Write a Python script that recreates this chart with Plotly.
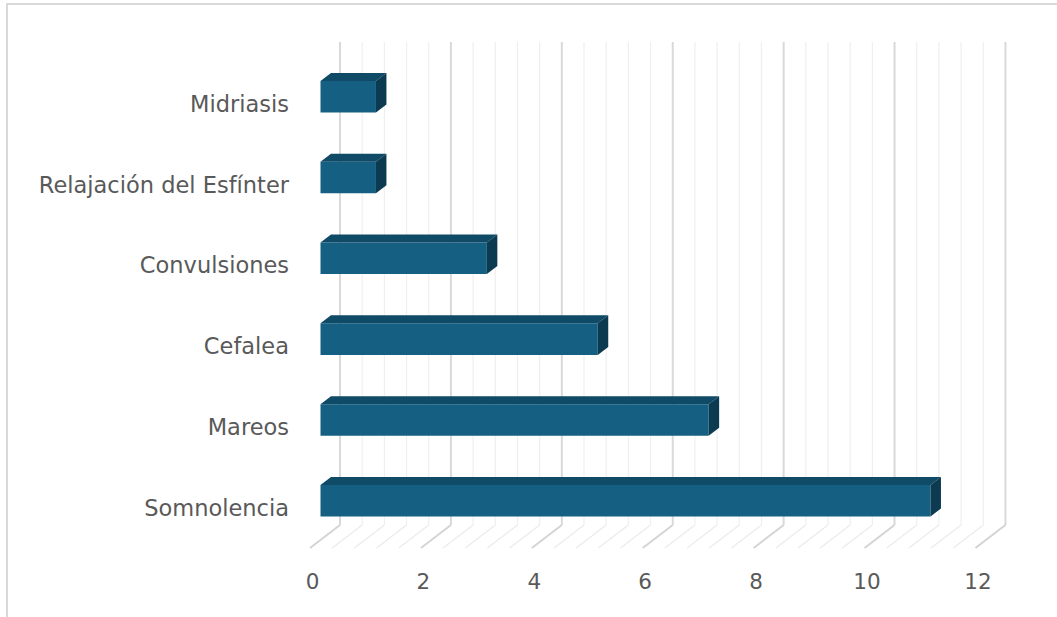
import plotly.graph_objects as go

# ---------------- data ----------------
categories = ["Somnolencia", "Mareos", "Cefalea", "Convulsiones",
              "Relajación del Esfínter", "Midriasis"]
values = [11, 7, 5, 3, 1, 1]
x_ticks = [0, 2, 4, 6, 8, 10, 12]
x_max = 12
minor_step = 0.4

# ---------------- style / geometry ----------------
FRONT = "#156082"
TOP = "#0f4a66"
SIDE = "#0c3b51"
TEXT = "#595959"
FONT = "DejaVu Sans"

W, H = 1057, 617
ML, MR, MT, MB = 300, 20, 20, 57
x_range = [-0.3697, 12.921]
y_range = [-0.6436, 6.0396]

bar_off, bar_w = -0.105, 0.39          # front face span around category position
dx, dy = 0.189, 0.099                  # depth offset of the bar (data units)
wall_dx = 0.352                        # back wall offset
floor_front_dx = -0.189                # front edge of floor
floor_back_y, floor_front_y = -0.2104, -0.495
wall_top_y = 5.767

idx = list(range(len(categories)))

fig = go.Figure()

# ---- grid (back wall + floor) as shapes beneath the traces ----
n_minor = int(round(x_max / minor_step))
all_lines = [round(k * minor_step, 6) for k in range(n_minor + 1)]
major_lines = [v for v in all_lines if abs(v / 2 - round(v / 2)) < 1e-6]
minor_lines = [v for v in all_lines if v not in major_lines]

shapes = []
def add_grid(vals, color_wall, color_floor, width):
    for v in vals:
        shapes.append(dict(type="line", xref="x", yref="y", layer="below",
                           x0=v + wall_dx, x1=v + wall_dx,
                           y0=floor_back_y, y1=wall_top_y,
                           line=dict(color=color_wall, width=width)))
        shapes.append(dict(type="line", xref="x", yref="y", layer="below",
                           x0=v + wall_dx, x1=v + floor_front_dx,
                           y0=floor_back_y, y1=floor_front_y,
                           line=dict(color=color_floor, width=width)))

add_grid(minor_lines, "#efefef", "#ebebeb", 1.2)
add_grid(major_lines, "#d9d9d9", "#d4d4d4", 2)

# outer border
shapes.append(dict(type="rect", xref="paper", yref="paper",
                   x0=(7 - ML) / (W - ML - MR), x1=1.2,
                   y0=-0.3, y1=(H - MB - 4) / (H - MT - MB),
                   line=dict(color="#d9d9d9", width=2), fillcolor="rgba(0,0,0,0)",
                   layer="below"))

# ---- front faces ----
fig.add_trace(go.Bar(y=idx, x=values, orientation="h", width=bar_w, offset=bar_off,
                     marker=dict(color=FRONT, line=dict(width=0)),
                     showlegend=False, hoverinfo="x"))

# ---- top faces ----
tx, ty = [], []
for i, v in zip(idx, values):
    yt = i + bar_off + bar_w
    tx += [0, v, v + dx, dx, 0, None]
    ty += [yt, yt, yt + dy, yt + dy, yt, None]
fig.add_trace(go.Scatter(x=tx, y=ty, mode="lines", fill="toself", fillcolor=TOP,
                         line=dict(width=0, color=TOP), hoverinfo="skip", showlegend=False))

# ---- side faces ----
sx, sy = [], []
for i, v in zip(idx, values):
    yb = i + bar_off
    yt = yb + bar_w
    sx += [v, v, v + dx, v + dx, v, None]
    sy += [yb, yt, yt + dy, yb + dy, yb, None]
fig.add_trace(go.Scatter(x=sx, y=sy, mode="lines", fill="toself", fillcolor=SIDE,
                         line=dict(width=0, color=SIDE), hoverinfo="skip", showlegend=False))

fig.update_layout(
    width=W, height=H,
    margin=dict(l=ML, r=MR, t=MT, b=MB, pad=0),
    paper_bgcolor="white", plot_bgcolor="white",
    font=dict(family=FONT, size=22.5, color=TEXT),
    xaxis=dict(range=x_range, tickvals=x_ticks, ticktext=[str(t) for t in x_ticks],
               showgrid=False, zeroline=False, showline=False, ticks="",
               ticklabelshift=-8, ticklabelstandoff=6, fixedrange=True,
               tickfont=dict(size=21.5)),
    yaxis=dict(range=y_range, tickvals=idx, ticktext=categories,
               showgrid=False, zeroline=False, showline=False, ticks="",
               ticklabelstandoff=10, fixedrange=True),
    shapes=shapes,
)

fig.write_html("out.html")
